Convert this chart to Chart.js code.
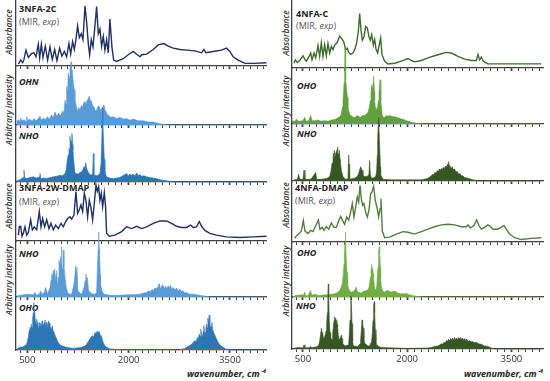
<!DOCTYPE html>
<html>
<head>
<meta charset="utf-8">
<script src="https://cdn.jsdelivr.net/npm/chart.js@4.4.1/dist/chart.umd.min.js"></script>
<style>
body { margin: 0; background: #fff; }
#wrap { position: relative; width: 550px; height: 381px; overflow: hidden; font-family: "Open Sans", sans-serif; }
canvas { position: absolute; }
.lbl { position: absolute; transform: translateY(-50%); font-size: 9px; font-weight: 700; color: #222; white-space: nowrap; }
.sub { font-weight: 400; color: #555; }
.calc { font-style: italic; }
.ytitle { position: absolute; transform: translate(-50%, -50%) rotate(-90deg); font-size: 8.5px; font-style: italic; font-weight: 600; color: #333; white-space: nowrap; }
.xtitle { position: absolute; transform: translateY(-50%); font-size: 9px; font-style: italic; font-weight: 700; color: #222; white-space: nowrap; }
</style>
</head>
<body>
<div id="wrap">
  <div class="ytitle" style="left:8px;top:32px">Absorbance</div>
  <div class="ytitle" style="left:8px;top:110px">Arbitrary intensity</div>
  <div class="ytitle" style="left:8px;top:206px">Absorbance</div>
  <div class="ytitle" style="left:8px;top:280px">Arbitrary intensity</div>
  <div class="ytitle" style="left:285px;top:33px">Absorbance</div>
  <div class="ytitle" style="left:285px;top:111px">Arbitrary intensity</div>
  <div class="ytitle" style="left:285px;top:205px">Absorbance</div>
  <div class="ytitle" style="left:285px;top:281px">Arbitrary intensity</div>

  <div class="lbl" style="left:19px;top:8px">3NFA-2C</div>
  <div class="lbl sub" style="left:19px;top:21px">(MIR, <i>exp</i>)</div>
  <div class="lbl calc" style="left:19px;top:81px">OHN</div>
  <div class="lbl calc" style="left:19px;top:135px">NHO</div>
  <div class="lbl" style="left:19px;top:187px">3NFA-2W-DMAP</div>
  <div class="lbl sub" style="left:19px;top:201px">(MIR, <i>exp</i>)</div>
  <div class="lbl calc" style="left:19px;top:253px">NHO</div>
  <div class="lbl calc" style="left:19px;top:307px">OHO</div>

  <div class="lbl" style="left:296px;top:13px">4NFA-C</div>
  <div class="lbl sub" style="left:296px;top:25px">(MIR, <i>exp</i>)</div>
  <div class="lbl calc" style="left:297px;top:85px">OHO</div>
  <div class="lbl calc" style="left:297px;top:133px">NHO</div>
  <div class="lbl" style="left:295px;top:187px">4NFA-DMAP</div>
  <div class="lbl sub" style="left:295px;top:200px">(MIR, <i>exp</i>)</div>
  <div class="lbl calc" style="left:297px;top:252px">OHO</div>
  <div class="lbl calc" style="left:296px;top:305px">NHO</div>

  <div class="xtitle" style="right:284px;top:373px">wavenumber, cm⁻¹</div>
  <div class="xtitle" style="right:7px;top:373px">wavenumber, cm⁻¹</div>
</div>

<script>
// [wavenumber, intensity], intensity in % of panel height
const abs3nfa2c = [[368,3],[402,9],[432,5],[451,10],[481,24],[515,13],[565,19],[599,20],[629,14],[663,33],[683,12],[708,33],[732,13],[767,30],[801,9],[836,29],[870,10],[905,25],[939,8],[979,27],[1013,15],[1048,22],[1082,14],[1117,34],[1142,18],[1171,37],[1196,25],[1220,40],[1245,61],[1270,43],[1299,49],[1324,40],[1354,91],[1378,67],[1403,34],[1423,17],[1447,40],[1472,29],[1497,56],[1526,90],[1551,49],[1575,56],[1600,30],[1625,45],[1649,24],[1674,40],[1699,20],[1723,71],[1753,29],[1778,9],[1822,7],[1920,11],[1994,17],[2068,22],[2128,17],[2167,14],[2192,17],[2266,18],[2364,25],[2438,32],[2522,34],[2586,30],[2660,27],[2759,25],[2857,24],[2981,23],[3079,20],[3114,25],[3143,20],[3252,22],[3375,24],[3449,27],[3498,22],[3547,14],[3621,9],[3720,4],[3843,4],[4040,5]];

const ohn3nfa2c = [[343,6],[368,9],[392,6],[402,12],[422,7],[451,9],[481,6],[491,14],[511,7],[540,10],[570,6],[599,11],[629,7],[658,10],[688,15],[708,8],[737,12],[767,9],[797,14],[826,10],[856,17],[885,13],[910,22],[935,15],[964,20],[994,16],[1023,24],[1043,20],[1058,42],[1073,35],[1082,65],[1097,55],[1107,88],[1122,80],[1132,99],[1147,107],[1156,95],[1166,93],[1181,71],[1196,60],[1206,42],[1220,35],[1240,23],[1260,30],[1280,25],[1299,33],[1319,31],[1339,38],[1354,40],[1368,35],[1388,42],[1403,45],[1418,49],[1432,42],[1452,40],[1467,33],[1487,31],[1506,24],[1526,25],[1546,32],[1565,31],[1585,24],[1600,28],[1615,30],[1635,34],[1649,26],[1664,23],[1684,18],[1699,17],[1733,13],[1773,14],[1822,11],[1871,13],[1920,10],[1970,11],[2019,8],[2068,10],[2142,7],[2216,7],[2290,5],[2364,5],[2463,2],[2561,0.5],[2660,0],[4040,0]];

const nho3nfa2c = [[343,2],[392,4],[417,6],[441,8],[451,21],[461,8],[491,6],[540,8],[589,9],[639,7],[678,9],[688,15],[698,6],[747,7],[787,6],[836,8],[885,9],[935,10],[984,12],[1023,11],[1058,15],[1077,22],[1092,39],[1107,48],[1117,59],[1127,55],[1132,80],[1142,65],[1146,74],[1156,70],[1161,85],[1171,66],[1176,56],[1191,33],[1201,20],[1211,15],[1255,14],[1280,17],[1304,18],[1324,22],[1339,27],[1354,24],[1363,34],[1378,25],[1388,21],[1418,14],[1447,12],[1467,15],[1477,50],[1487,15],[1497,12],[1536,11],[1575,15],[1590,30],[1600,62],[1610,110],[1615,130],[1620,110],[1630,68],[1640,40],[1649,21],[1664,12],[1684,8],[1723,7],[1773,6],[1822,7],[1871,8],[1911,11],[1945,13],[1970,15],[1994,11],[2019,14],[2044,12],[2068,14],[2093,11],[2118,16],[2142,11],[2167,13],[2192,10],[2226,11],[2266,9],[2315,8],[2364,7],[2414,6],[2463,4],[2512,3],[2561,2],[2660,0],[4040,0]];

const abs3nfaDmap = [[368,10],[382,24],[402,25],[422,8],[441,13],[466,24],[491,10],[515,14],[550,36],[575,19],[604,24],[639,19],[678,50],[703,24],[727,38],[757,24],[787,36],[821,21],[851,30],[885,19],[920,27],[959,21],[999,30],[1033,24],[1068,33],[1097,38],[1132,41],[1156,37],[1191,44],[1220,84],[1245,47],[1270,53],[1294,61],[1319,50],[1344,81],[1368,69],[1393,41],[1418,69],[1442,57],[1467,36],[1492,64],[1516,95],[1536,84],[1556,92],[1575,69],[1595,81],[1615,58],[1640,82],[1659,58],[1674,13],[1714,8],[1797,10],[1896,16],[1970,24],[2044,21],[2118,25],[2192,21],[2266,24],[2364,30],[2463,34],[2561,34],[2635,30],[2709,25],[2783,23],[2857,23],[2916,27],[2956,23],[3005,24],[3045,33],[3079,25],[3128,18],[3202,13],[3301,10],[3449,7],[3646,6],[3843,7],[4040,8]];

const nho3nfaDmap = [[343,2],[441,4],[491,5],[589,4],[614,8],[639,3],[678,5],[698,11],[718,5],[752,8],[772,17],[797,6],[821,12],[836,17],[851,30],[861,41],[875,35],[885,47],[895,38],[905,50],[920,29],[935,47],[949,17],[959,35],[969,65],[979,55],[989,72],[999,60],[1004,90],[1013,62],[1018,50],[1028,70],[1033,84],[1043,55],[1053,41],[1073,20],[1092,10],[1107,6],[1156,5],[1191,23],[1206,40],[1215,56],[1225,45],[1235,53],[1250,11],[1280,7],[1304,5],[1339,17],[1359,30],[1368,41],[1378,30],[1388,35],[1408,11],[1452,6],[1501,5],[1526,8],[1541,65],[1551,90],[1556,116],[1566,85],[1570,78],[1580,40],[1585,23],[1605,11],[1635,5],[1723,3],[1871,3],[1970,4],[2068,4],[2167,5],[2216,7],[2266,8],[2290,11],[2315,9],[2340,13],[2364,12],[2389,16],[2414,15],[2433,18],[2453,24],[2468,16],[2483,17],[2502,22],[2512,20],[2532,15],[2547,19],[2566,15],[2586,20],[2606,16],[2620,21],[2640,14],[2660,17],[2685,13],[2709,16],[2734,11],[2759,14],[2783,10],[2808,11],[2832,7],[2857,8],[2907,5],[2956,5],[3005,4],[3104,2],[3202,0],[4040,0]];

const oho3nfaDmap = [[343,2],[392,5],[441,6],[471,9],[491,11],[505,18],[515,24],[530,38],[540,43],[550,35],[560,49],[570,42],[580,61],[589,70],[594,89],[599,80],[609,74],[619,55],[629,49],[639,58],[649,52],[658,40],[673,43],[683,52],[698,49],[708,42],[718,55],[727,48],[737,46],[752,52],[762,57],[772,45],[782,52],[791,40],[801,46],[816,55],[826,51],[836,40],[846,43],[860,38],[870,46],[885,35],[895,33],[910,28],[925,24],[944,18],[959,14],[984,10],[1008,8],[1082,5],[1181,3],[1304,5],[1354,8],[1378,11],[1403,16],[1427,21],[1447,25],[1467,27],[1482,24],[1501,33],[1516,30],[1536,36],[1551,32],[1565,35],[1580,28],[1595,27],[1610,20],[1625,14],[1644,9],[1664,6],[1723,2],[1871,0.5],[2759,0.5],[2833,3],[2857,5],[2897,8],[2931,11],[2956,14],[2981,18],[3000,15],[3015,24],[3030,20],[3045,30],[3059,26],[3069,39],[3084,25],[3094,27],[3104,35],[3113,46],[3123,33],[3133,33],[3143,40],[3153,49],[3163,42],[3173,60],[3183,50],[3192,66],[3202,48],[3212,43],[3222,45],[3232,52],[3242,38],[3252,36],[3266,30],[3281,27],[3296,22],[3311,18],[3331,13],[3350,10],[3375,7],[3399,5],[3439,2],[3473,1],[3547,0],[4040,0]];

const abs4nfaC = [[371,7],[390,12],[419,8],[453,11],[501,18],[525,13],[549,10],[587,17],[611,22],[630,12],[659,22],[683,15],[716,33],[740,17],[764,37],[788,17],[812,34],[836,18],[860,36],[884,22],[908,32],[932,27],[956,34],[990,37],[1028,47],[1052,44],[1086,39],[1115,27],[1139,29],[1158,23],[1186,20],[1220,22],[1244,27],[1273,37],[1297,54],[1316,80],[1335,56],[1354,41],[1378,46],[1402,61],[1426,59],[1450,46],[1469,41],[1489,49],[1513,34],[1532,42],[1551,28],[1575,22],[1594,32],[1618,44],[1637,20],[1676,10],[1724,6],[1820,7],[1915,10],[2011,14],[2059,11],[2107,9],[2203,11],[2299,15],[2395,18],[2491,21],[2563,23],[2635,22],[2731,17],[2827,13],[2923,11],[2995,11],[3019,20],[3043,12],[3067,16],[3095,10],[3162,6],[3354,6],[3930,6]];

const oho4nfaC = [[333,5],[357,6],[381,4],[405,9],[429,5],[453,5],[501,6],[525,12],[544,5],[582,6],[611,15],[630,6],[669,6],[716,7],[764,5],[812,6],[860,5],[908,7],[956,8],[1004,11],[1028,13],[1052,18],[1067,30],[1076,42],[1086,60],[1091,73],[1100,110],[1105,136],[1110,120],[1119,79],[1129,60],[1139,48],[1148,32],[1158,24],[1172,18],[1186,15],[1215,13],[1244,11],[1268,14],[1292,15],[1316,12],[1340,13],[1364,16],[1388,15],[1412,18],[1436,21],[1455,30],[1469,42],[1479,55],[1489,70],[1498,62],[1503,64],[1513,75],[1517,85],[1527,60],[1532,42],[1541,30],[1551,24],[1565,26],[1575,30],[1585,42],[1594,55],[1604,70],[1609,79],[1618,60],[1623,42],[1633,25],[1642,15],[1656,12],[1676,12],[1700,15],[1724,14],[1748,15],[1772,14],[1796,13],[1820,13],[1844,12],[1877,11],[1915,9],[1954,8],[1987,6],[2021,5],[2059,3],[2107,2],[2155,1],[2251,0],[3930,0]];

const nho4nfaC = [[357,1],[381,2],[419,3],[438,12],[453,3],[501,3],[515,19],[529,3],[597,3],[621,4],[683,15],[697,3],[764,3],[812,4],[851,5],[884,8],[904,18],[918,31],[928,25],[937,49],[947,40],[951,54],[961,45],[966,42],[975,48],[980,51],[990,55],[995,60],[1004,50],[1009,46],[1019,50],[1023,54],[1033,38],[1038,34],[1052,19],[1076,8],[1110,3],[1148,4],[1153,30],[1158,46],[1163,30],[1172,3],[1244,5],[1282,8],[1302,13],[1316,20],[1330,25],[1340,22],[1350,19],[1364,12],[1378,8],[1426,8],[1450,12],[1460,36],[1469,12],[1484,5],[1532,6],[1551,10],[1561,19],[1570,45],[1575,72],[1585,105],[1589,111],[1594,100],[1604,60],[1614,25],[1618,11],[1652,3],[1772,2],[2203,2],[2275,4],[2299,5],[2323,7],[2347,9],[2366,12],[2385,11],[2395,15],[2414,14],[2433,18],[2448,17],[2462,21],[2477,19],[2491,22],[2505,20],[2520,24],[2534,22],[2549,26],[2563,24],[2577,29],[2587,27],[2596,34],[2606,27],[2620,26],[2635,22],[2649,25],[2664,20],[2683,21],[2702,16],[2721,17],[2740,12],[2760,13],[2779,9],[2803,9],[2827,6],[2875,5],[2947,2],[3019,0],[3930,0]];

const abs4nfaDmap = [[381,6],[405,10],[438,13],[477,18],[505,35],[529,18],[573,14],[611,19],[645,17],[693,29],[721,36],[745,21],[779,24],[803,19],[836,25],[870,21],[908,31],[947,24],[980,24],[1014,35],[1043,42],[1071,35],[1100,29],[1129,41],[1158,36],[1186,49],[1210,63],[1234,41],[1258,57],[1282,74],[1302,66],[1321,93],[1340,71],[1359,60],[1378,63],[1402,49],[1426,41],[1450,52],[1474,79],[1493,82],[1517,91],[1541,68],[1565,57],[1589,41],[1609,54],[1623,71],[1642,18],[1676,7],[1748,8],[1844,13],[1939,17],[2011,16],[2107,13],[2203,17],[2299,21],[2395,25],[2491,28],[2587,29],[2683,28],[2779,25],[2851,25],[2875,28],[2908,23],[2961,27],[3000,36],[3033,27],[3067,21],[3114,24],[3162,28],[3201,25],[3234,21],[3297,21],[3354,24],[3393,27],[3426,21],[3474,13],[3546,7],[3642,4],[3786,6],[3930,7]];

const oho4nfaDmap = [[357,1],[405,3],[477,4],[505,3],[525,9],[539,2],[573,3],[611,12],[625,3],[669,5],[716,3],[764,3],[812,4],[860,4],[908,5],[956,6],[995,8],[1028,12],[1052,18],[1062,24],[1071,32],[1081,42],[1091,60],[1095,73],[1105,100],[1110,118],[1115,100],[1124,67],[1134,45],[1139,33],[1148,22],[1158,15],[1177,11],[1196,9],[1220,10],[1244,12],[1268,18],[1282,10],[1302,9],[1340,7],[1364,10],[1388,11],[1412,12],[1436,13],[1455,20],[1469,36],[1479,48],[1489,59],[1498,50],[1503,52],[1513,42],[1517,36],[1527,20],[1537,13],[1551,15],[1561,18],[1570,35],[1580,55],[1585,67],[1594,85],[1599,92],[1604,80],[1614,55],[1618,35],[1628,18],[1647,11],[1676,9],[1700,11],[1724,12],[1748,10],[1772,9],[1796,10],[1820,11],[1844,9],[1868,7],[1906,6],[1939,6],[1963,6],[1987,7],[2011,5],[2059,3],[2107,2],[2155,1],[2251,0],[3930,0]];

const nho4nfaDmap = [[357,1],[429,3],[501,2],[515,8],[529,2],[597,3],[611,5],[625,3],[693,4],[726,7],[740,15],[750,25],[760,35],[764,40],[774,32],[784,30],[793,22],[803,21],[812,25],[822,27],[832,35],[841,49],[851,70],[856,87],[860,110],[865,125],[870,100],[880,49],[889,32],[899,24],[908,20],[918,18],[928,30],[937,43],[947,55],[956,62],[961,58],[971,59],[980,50],[985,56],[995,47],[999,43],[1009,25],[1014,18],[1028,19],[1038,21],[1052,27],[1062,20],[1071,11],[1091,7],[1110,6],[1158,8],[1167,30],[1177,56],[1186,90],[1191,102],[1196,90],[1206,49],[1215,15],[1225,6],[1292,5],[1321,10],[1330,18],[1340,35],[1350,56],[1359,48],[1369,40],[1378,20],[1388,11],[1436,6],[1460,6],[1489,15],[1498,30],[1508,55],[1513,72],[1522,85],[1527,91],[1532,70],[1541,37],[1551,15],[1561,8],[1589,5],[1628,3],[2011,1],[2299,2],[2347,3],[2395,5],[2443,6],[2472,8],[2491,10],[2510,9],[2529,13],[2549,12],[2568,17],[2582,14],[2596,19],[2611,16],[2625,20],[2640,17],[2654,21],[2668,17],[2683,22],[2697,18],[2712,21],[2726,18],[2740,22],[2755,19],[2769,22],[2784,18],[2798,21],[2812,17],[2827,20],[2841,16],[2856,19],[2875,15],[2899,16],[2923,14],[2947,14],[2971,12],[2995,13],[3028,10],[3067,9],[3114,6],[3162,5],[3210,2],[3258,0.5],[3306,0],[3930,0]];

const tickLabels = [500, 2000, 3500];

const columns = {
    L: { x0: 16, x1: 266, min: 333, max: 4033 },
    R: { x0: 292, x1: 543, min: 342, max: 3955 }
};

const panels = [
    { col: 'L', data: abs3nfa2c, color: '#1f3068', abs: true, top: 0, bottom: 66 },
    { col: 'L', data: ohn3nfa2c, color: '#5b9bd5', top: 66, bottom: 125 },
    { col: 'L', data: nho3nfa2c, color: '#2e75b6', top: 125, bottom: 182 },
    { col: 'L', data: abs3nfaDmap, color: '#1f3068', abs: true, top: 182, bottom: 241 },
    { col: 'L', data: nho3nfaDmap, color: '#5b9bd5', top: 241, bottom: 297 },
    { col: 'L', data: oho3nfaDmap, color: '#2e75b6', top: 297, bottom: 350, last: true },
    { col: 'R', data: abs4nfaC, color: '#3d6b2c', abs: true, top: 0, bottom: 68 },
    { col: 'R', data: oho4nfaC, color: '#62a03f', top: 68, bottom: 124 },
    { col: 'R', data: nho4nfaC, color: '#375623', top: 124, bottom: 181 },
    { col: 'R', data: abs4nfaDmap, color: '#4f7f3a', abs: true, top: 181, bottom: 242 },
    { col: 'R', data: oho4nfaDmap, color: '#70ad47', top: 242, bottom: 297 },
    { col: 'R', data: nho4nfaDmap, color: '#375623', top: 297, bottom: 349, last: true }
];

const PAD = 6, OVER = 26;
const axisColor = '#404040';
const wrap = document.getElementById('wrap');

panels.forEach(p => {
    const c = columns[p.col];
    const axisH = p.last ? 20 : 6;
    const canvas = document.createElement('canvas');
    canvas.width = c.x1 - c.x0 + 2 * PAD;
    canvas.height = p.bottom - p.top + OVER + axisH;
    canvas.style.left = (c.x0 - PAD) + 'px';
    canvas.style.top = (p.top - OVER) + 'px';
    wrap.appendChild(canvas);

    new Chart(canvas.getContext('2d'), {
        type: 'line',
        data: {
            datasets: [{
                data: p.data.map(d => ({ x: d[0], y: d[1] })),
                borderColor: p.color,
                backgroundColor: p.color,
                borderWidth: p.abs ? 1.4 : 0.6,
                fill: p.abs ? false : 'origin',
                pointRadius: 0,
                tension: 0,
                clip: false
            }]
        },
        options: {
            responsive: false,
            animation: false,
            layout: { padding: { left: PAD, right: PAD, top: OVER, bottom: 0 } },
            plugins: { legend: { display: false }, tooltip: { enabled: false } },
            scales: {
                x: {
                    type: 'linear',
                    min: c.min,
                    max: c.max,
                    afterBuildTicks: scale => {
                        const t = [];
                        for (let v = 400; v <= c.max; v += 100) t.push({ value: v });
                        scale.ticks = t;
                    },
                    afterFit: scale => { scale.height = axisH; },
                    ticks: {
                        display: !!p.last,
                        autoSkip: false,
                        maxRotation: 0,
                        padding: 2,
                        color: '#333',
                        font: { family: 'Open Sans', size: 9.5 },
                        callback: v => tickLabels.includes(v) ? String(v) : ''
                    },
                    grid: {
                        drawOnChartArea: false,
                        color: axisColor,
                        tickLength: 3,
                        tickWidth: ctx => tickLabels.includes(ctx.tick && ctx.tick.value) ? 1.8 : 1
                    },
                    border: { display: true, color: axisColor, width: 1.3 }
                },
                y: {
                    min: 0,
                    max: 100,
                    afterFit: scale => { scale.width = 0; },
                    ticks: { display: false },
                    grid: { display: false, drawTicks: false },
                    border: { display: true, color: axisColor, width: 1.3 }
                }
            }
        }
    });
});
</script>
</body>
</html>
